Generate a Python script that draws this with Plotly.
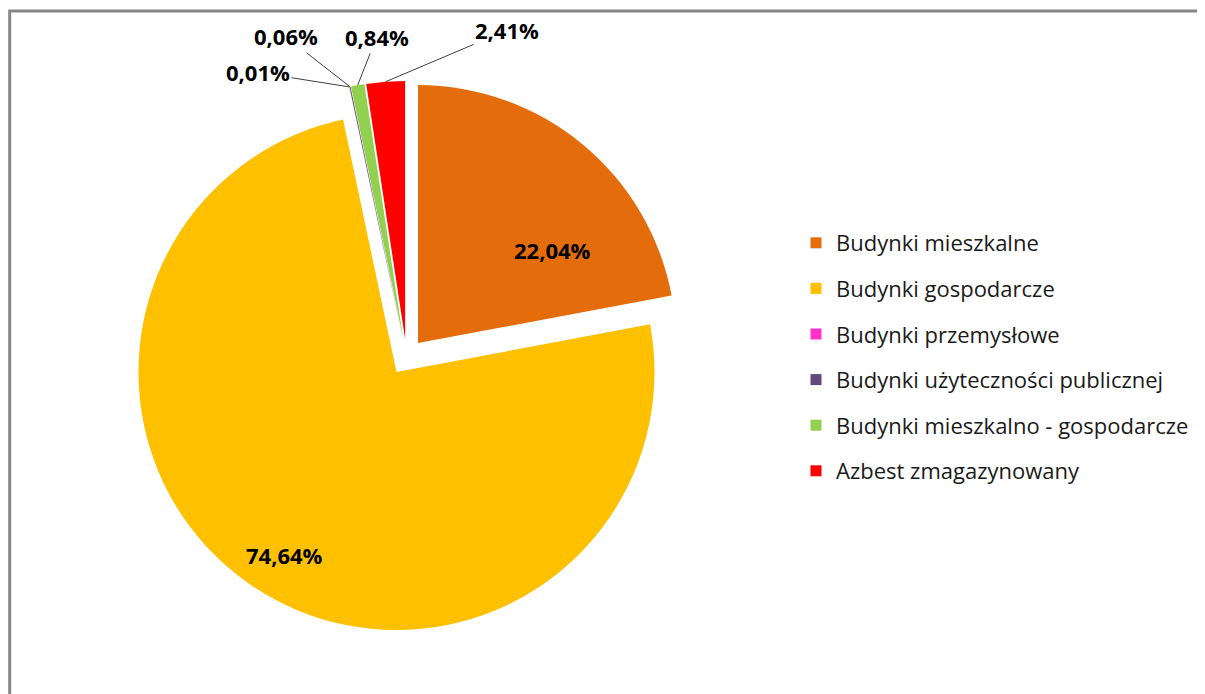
import math
import plotly.graph_objects as go

categories = ["Budynki mieszkalne", "Budynki gospodarcze", "Budynki przemysłowe",
              "Budynki użyteczności publicznej", "Budynki mieszkalno - gospodarcze",
              "Azbest zmagazynowany"]
values = [22.04, 74.64, 0.01, 0.06, 0.84, 2.41]
colors = ["#E46C0A", "#FFC000", "#FF33CC", "#604A7B", "#92D050", "#FF0000"]
text_labels = [f"{v:.2f}%".replace(".", ",") for v in values]

W, H = 1205, 694
OFF = 8  # page body margin
cx, cy, R, pull = 406.5, 357.0, 258.0, 0.07  # reference-pixel geometry
half = R * (1 + pull)


def px(x):
    return (x - OFF) / W


def py(y):
    return 1 - (y - OFF) / H


fig = go.Figure()
fig.add_trace(go.Pie(
    labels=categories, values=values, sort=False, direction="clockwise", rotation=0,
    marker=dict(colors=colors, line=dict(width=0)),
    pull=[pull] * len(values),
    textinfo="none", showlegend=False, hoverinfo="label+percent",
    domain=dict(x=[px(cx - half), px(cx + half)], y=[py(cy + half), py(cy - half)]),
))

# label placement: (kind, dx, dy) pixel offsets of text centre
label_style = [("in", 134, -93), ("in", -111.5, 183),
               ("out", -91.5, -14.5), ("out", -64.5, -50.5),
               ("out", 19, -48.5), ("out", 121.5, -51.5)]
total = sum(values)
cum = 0.0
annotations = []
for v, txt, (kind, dx, dy) in zip(values, text_labels, label_style):
    mid = math.radians((cum + v / 2) / total * 360)
    cum += v
    sx, sy = math.sin(mid), -math.cos(mid)
    font = dict(family="Open Sans", size=22, color="#000000", weight="bold")
    if kind == "in":
        ox, oy = cx + pull * R * sx, cy + pull * R * sy
        annotations.append(dict(x=px(ox), y=py(oy), xref="paper", yref="paper",
                                xanchor="center", yanchor="middle",
                                text=txt, showarrow=False, xshift=dx, yshift=-dy,
                                font=font))
    else:
        tx, ty = cx + half * sx, cy + half * sy
        annotations.append(dict(x=px(tx), y=py(ty), xref="paper", yref="paper",
                                text=txt, showarrow=True, arrowhead=0, arrowwidth=1,
                                arrowcolor="#404040", ax=dx, ay=dy, standoff=0,
                                font=font))

for i, (name, col) in enumerate(zip(categories, colors)):
    fig.add_trace(go.Scatter(
        x=[None], y=[None], mode="markers", name=name, legendgroup=f"g{i}",
        marker=dict(symbol="square", size=11, color=col),
        showlegend=True,
    ))

fig.update_layout(
    width=W, height=H, margin=dict(l=0, r=0, t=0, b=0, autoexpand=False),
    paper_bgcolor="white", plot_bgcolor="white",
    xaxis=dict(visible=False), yaxis=dict(visible=False),
    legend=dict(x=px(796), xanchor="left", y=py(357), yanchor="middle",
                tracegroupgap=14, itemsizing="trace",
                font=dict(family="Open Sans", size=22, color="#1a1a1a"),
                bgcolor="rgba(0,0,0,0)"),
    annotations=annotations,
    shapes=[dict(type="rect", xref="paper", yref="paper",
                 x0=px(9.7), x1=1.05, y0=-0.05, y1=py(11),
                 line=dict(color="#868686", width=3))],
)

fig.write_html("out.html")
